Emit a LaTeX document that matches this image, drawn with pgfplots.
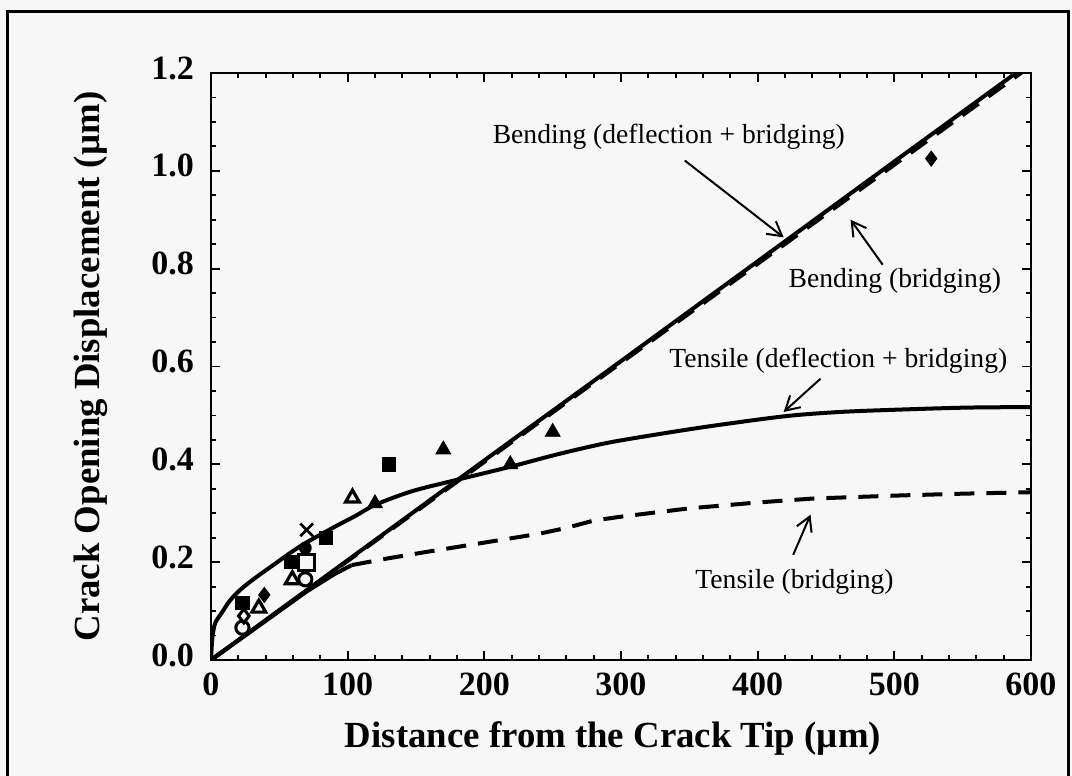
\documentclass[border=0pt]{standalone}
\usepackage{fontspec}
\setmainfont{Liberation Serif}
\usepackage{pgfplots}
\pgfplotsset{compat=1.18}
\usetikzlibrary{arrows.meta}
\definecolor{bg}{HTML}{F7F7F7}
\begin{document}
\begin{tikzpicture}
\useasboundingbox (0pt,0pt) rectangle (536pt,388pt);
\fill[bg] (0pt,0pt) rectangle (536pt,388pt);
\draw[line width=1.5pt] (3.5pt,-2pt) -- (3.5pt,382pt) -- (534pt,382pt) -- (534pt,-2pt);
\begin{axis}[
  at={(105.5pt,58pt)}, anchor=origin,
  width=410pt, height=293.5pt, scale only axis,
  xmin=0, xmax=600, ymin=0, ymax=1.2,
  xtick={0,100,...,600}, minor x tick num=4,
  ytick={0,0.2,0.4,0.6,0.8,1.0,1.2}, minor y tick num=3,
  tick align=inside,
  major tick length=4.5pt, minor tick length=2.5pt,
  axis line style={line width=1.3pt},
  every tick/.style={line width=0.9pt, black},
  /pgf/number format/assume math mode=true,
  ticklabel style={font=\fontsize{17}{19}\selectfont\bfseries},
  yticklabel style={/pgf/number format/.cd, fixed, fixed zerofill, precision=1, /tikz/.cd, xshift=-5pt, yshift=2.5pt},
  xticklabel style={yshift=-3pt},
  xticklabel style={/pgf/number format/.cd, fixed, precision=0},
  xlabel={Distance from the Crack Tip (\textmu m)},
  ylabel={Crack Opening Displacement (\textmu m)},
  label style={font=\fontsize{18.4}{21}\selectfont\bfseries},
  xlabel style={at={([xshift=-4pt,yshift=-39pt]axis description cs:0.5,0)}, anchor=center},
  ylabel style={at={([xshift=-60pt]axis description cs:0,0.5)}, anchor=center},
  clip=true,
]
% Bending (bridging), dashed
\addplot[black, line width=2pt, dash pattern=on 10pt off 6pt] coordinates {(0,0) (100,0.2025) (200,0.405) (300,0.6075) (400,0.81) (500,1.0125) (600,1.215)};
% Bending (deflection + bridging)
\addplot[black, line width=2pt] coordinates {(0,0) (100,0.204) (200,0.408) (300,0.611) (400,0.815) (500,1.019) (589,1.2) (600,1.222)};
% Tensile (bridging)
\addplot[black, line width=2pt] coordinates {(0,0) (50,0.1) (70,0.14) (90,0.175) (103,0.194)};
\addplot[black, line width=2pt, dash pattern=on 10pt off 6pt] coordinates {(103,0.194) (130,0.208) (160,0.222) (200,0.24) (240,0.258) (260,0.27) (280,0.285) (300,0.293) (350,0.31) (400,0.322) (440,0.33) (500,0.336) (550,0.34) (600,0.343)};
% Tensile (deflection + bridging)
\addplot[black, line width=2pt, smooth, tension=0.5] coordinates {(0,0) (1,0.045) (3,0.075) (8,0.097) (14,0.122) (22,0.145) (32,0.167) (45,0.193) (65,0.232) (89,0.27) (106,0.295) (120,0.317) (147,0.345) (178,0.367) (219,0.395) (250,0.418) (277,0.436) (300,0.449) (358,0.475) (419,0.498) (460,0.507) (505,0.512) (554,0.516) (600,0.517)};
% filled triangles
\addplot[only marks, mark=triangle*, mark size=4.3pt, black] coordinates {(120,0.32) (170,0.43) (219,0.40) (250,0.466)};
% filled squares
\addplot[only marks, mark=square*, mark size=3.3pt, black] coordinates {(130,0.40) (84,0.249) (58.5,0.20) (23,0.117)};
% filled circle
\addplot[only marks, mark=*, mark size=3pt, black] coordinates {(69,0.229)};
% filled diamonds
\addplot[only marks, mark=diamond*, mark size=3.8pt, black] coordinates {(527,1.025) (39,0.133)};
% cross
\addplot[only marks, mark=x, mark size=4.5pt, black, mark options={line width=1.3pt}] coordinates {(70,0.266)};
% open square
\addplot[only marks, mark=square, mark size=4pt, black, mark options={line width=1.4pt, fill=white}] coordinates {(70,0.20)};
% open triangles
\addplot[only marks, mark=triangle, mark size=4pt, black, mark options={line width=1.6pt}] coordinates {(103.5,0.331) (59.5,0.164) (35,0.106)};
% open circles
\addplot[only marks, mark=o, mark size=3.3pt, black, mark options={line width=1.5pt}] coordinates {(69,0.165) (23,0.066)};
% open diamond
\addplot[only marks, mark=diamond, mark size=3.5pt, black, mark options={line width=1.5pt}] coordinates {(24,0.09)};
% annotations
\node[font=\fontsize{13.8}{16}\selectfont] at (axis cs:335,1.07) {Bending (deflection + bridging)};
\draw[line width=1pt, -{Straight Barb[length=7pt,width=8pt]}] (axis cs:346.7,1.021) -- (axis cs:419,0.864);
\node[font=\fontsize{13.8}{16}\selectfont] at (axis cs:500.4,0.775) {Bending (bridging)};
\draw[line width=1pt, -{Straight Barb[length=7pt,width=8pt]}] (axis cs:491.5,0.808) -- (axis cs:468,0.9);
\node[font=\fontsize{13.8}{16}\selectfont] at (axis cs:459,0.611) {Tensile (deflection + bridging)};
\draw[line width=1pt, -{Straight Barb[length=7pt,width=8pt]}] (axis cs:446,0.575) -- (axis cs:419,0.507);
\node[font=\fontsize{13.8}{16}\selectfont] at (axis cs:427,0.159) {Tensile (bridging)};
\draw[line width=1pt, -{Straight Barb[length=7pt,width=8pt]}] (axis cs:426,0.215) -- (axis cs:438.7,0.297);
\end{axis}
\end{tikzpicture}
\end{document}
